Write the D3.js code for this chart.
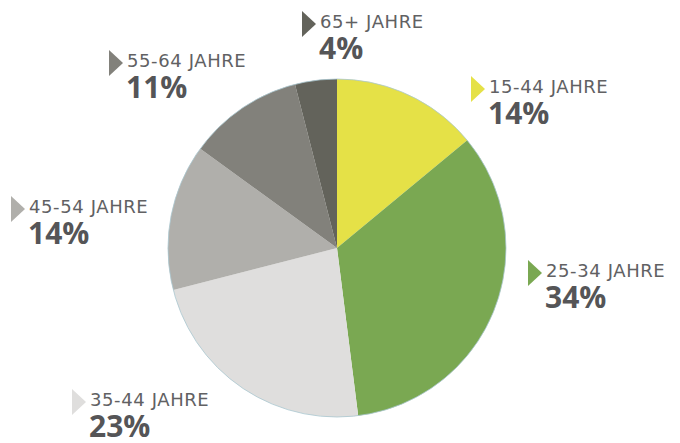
<!DOCTYPE html>
<html>
<head>
<meta charset="utf-8">
<script src="https://cdn.jsdelivr.net/npm/d3@7"></script>
<style>
  body { margin: 0; background: #fff; }
  .lbl { font-family: "DejaVu Sans", sans-serif; font-size: 18px; fill: #616163; letter-spacing: 0.6px; }
  .pct { font-family: "Open Sans", sans-serif; font-size: 30px; font-weight: 700; fill: #555557; }
</style>
</head>
<body>
<div id="chart"></div>
<script>
// age groups, clockwise from 12 o'clock
const groups = ["15-44 JAHRE", "25-34 JAHRE", "35-44 JAHRE", "45-54 JAHRE", "55-64 JAHRE", "65+ JAHRE"];
const shares = [14, 34, 23, 14, 11, 4];
const colors = ["#e5e147", "#7aa852", "#dfdedd", "#b0afab", "#82817b", "#63635b"];
// label anchor (triangle left edge, label baseline)
const labelPos = [[471, 93], [528, 277], [72, 406], [11, 213], [109, 67], [302, 28]];

const width = 680, height = 443;
const cx = 337, cy = 248, r = 169;

const svg = d3.select("#chart").append("svg")
    .attr("width", width)
    .attr("height", height);

const pie = d3.pie().sort(null).value(d => d);
const arc = d3.arc().innerRadius(0).outerRadius(r);

const g = svg.append("g").attr("transform", `translate(${cx},${cy})`);

g.selectAll("path")
    .data(pie(shares))
    .enter()
    .append("path")
    .attr("d", arc)
    .attr("fill", (d, i) => colors[i]);

// faint outline round the pie
g.append("circle")
    .attr("r", r)
    .attr("fill", "none")
    .attr("stroke", "#a9c6cf")
    .attr("stroke-width", 0.8);

const labels = svg.selectAll("g.label")
    .data(groups)
    .enter()
    .append("g")
    .attr("class", "label")
    .attr("transform", (d, i) => `translate(${labelPos[i][0]},${labelPos[i][1]})`);

labels.append("path")
    .attr("d", "M0,-17 L14,-4 L0,9 Z")
    .attr("fill", (d, i) => colors[i]);

labels.append("text")
    .attr("class", "lbl")
    .attr("x", 18)
    .text(d => d);

labels.append("text")
    .attr("class", "pct")
    .attr("x", 17)
    .attr("y", 31)
    .text((d, i) => shares[i] + "%");
</script>
</body>
</html>
